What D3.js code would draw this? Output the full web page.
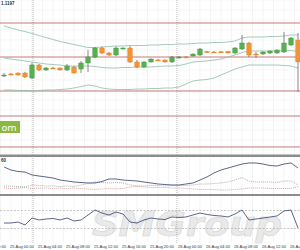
<!DOCTYPE html>
<html>
<head>
<meta charset="utf-8">
<script src="https://cdn.jsdelivr.net/npm/d3@7"></script>
<style>
  html, body { margin: 0; padding: 0; background: #fff; overflow: hidden; }
</style>
</head>
<body>
<svg id="chart" width="300" height="250"></svg>
<script>
// H1 candles, price panel
const opens  = [1.11245,1.11260,1.11270,1.11270,1.11220,1.11350,1.11300,1.11320,1.11320,1.11300,1.11330,1.11310,1.11370,1.11430,1.11520,1.11470,1.11450,1.11510,1.11520,1.11380,1.11330,1.11380,1.11400,1.11400,1.11380,1.11420,1.11430,1.11440,1.11450,1.11485,1.11480,1.11482,1.11485,1.11470,1.11510,1.11570,1.11460,1.11460,1.11470,1.11470,1.11480,1.11550,1.11600];
const highs  = [1.11270,1.11270,1.11275,1.11280,1.11370,1.11360,1.11330,1.11330,1.11325,1.11360,1.11340,1.11390,1.11500,1.11530,1.11535,1.11480,1.11535,1.11525,1.11540,1.11400,1.11390,1.11415,1.11410,1.11405,1.11440,1.11440,1.11440,1.11465,1.11520,1.11490,1.11490,1.11490,1.11490,1.11530,1.11650,1.11580,1.11480,1.11485,1.11495,1.11505,1.11680,1.11630,1.11670];
const lows   = [1.11230,1.11245,1.11245,1.11220,1.11210,1.11290,1.11290,1.11310,1.11295,1.11290,1.11265,1.11270,1.11280,1.11420,1.11460,1.11440,1.11440,1.11505,1.11370,1.11320,1.11320,1.11375,1.11390,1.11375,1.11370,1.11415,1.11420,1.11435,1.11440,1.11470,1.11470,1.11470,1.11465,1.11460,1.11500,1.11430,1.11420,1.11450,1.11460,1.11460,1.11470,1.11540,1.11080];
const closes = [1.11250,1.11257,1.11250,1.11230,1.11350,1.11300,1.11320,1.11317,1.11300,1.11340,1.11270,1.11370,1.11430,1.11520,1.11470,1.11450,1.11520,1.11520,1.11380,1.11330,1.11380,1.11410,1.11397,1.11380,1.11430,1.11430,1.11427,1.11460,1.11510,1.11475,1.11478,1.11480,1.11470,1.11520,1.11570,1.11450,1.11457,1.11480,1.11490,1.11500,1.11570,1.11620,1.11380];

// bollinger bands
const bbUpper  = [1.1174,1.1172,1.1170,1.11685,1.11665,1.11645,1.11625,1.11605,1.11585,1.1157,1.11555,1.1154,1.11525,1.11525,1.1153,1.11535,1.1154,1.1154,1.11545,1.11545,1.11545,1.1155,1.1155,1.11555,1.11555,1.1156,1.1156,1.11565,1.1157,1.1157,1.11575,1.11575,1.1158,1.1159,1.1162,1.1163,1.1163,1.1163,1.11635,1.11635,1.1164,1.1165,1.1165];
const bbMiddle = [1.1142,1.1141,1.1140,1.1139,1.1138,1.1137,1.1136,1.11355,1.1135,1.1134,1.1134,1.1134,1.1134,1.11335,1.11325,1.1132,1.1132,1.11325,1.11325,1.1133,1.1133,1.1133,1.11335,1.1134,1.1134,1.11345,1.1136,1.1138,1.11385,1.1139,1.1140,1.1141,1.1143,1.1145,1.11475,1.1149,1.1149,1.1149,1.1149,1.1149,1.1149,1.11495,1.11485];
const bbLower  = [1.1110,1.1110,1.11095,1.11095,1.1109,1.11095,1.1110,1.1110,1.11105,1.1111,1.1112,1.11135,1.1115,1.1114,1.1112,1.1111,1.11105,1.11105,1.11105,1.1111,1.1111,1.11115,1.11115,1.1112,1.1112,1.1113,1.1116,1.1119,1.1120,1.11205,1.1122,1.1125,1.1128,1.1131,1.1133,1.1135,1.1135,1.1135,1.1135,1.1135,1.11345,1.1134,1.1132];

// horizontal levels
const levels = [1.1177, 1.1143, 1.1109, 1.1084, 1.1053];

// ADX panel
const adx     = [36.5,32.4,30.4,29.7,25.7,24.3,23.0,21.6,18.9,17.6,16.2,15.5,14.9,14.9,16.9,20.3,20.3,18.9,18.2,17.6,16.2,14.9,13.5,12.8,12.2,12.2,13.5,14.9,18.9,23.0,28.4,32.4,35.1,37.8,40.5,41.9,41.9,40.5,38.5,37.8,40.5,41.9,35.1];
const plusDI  = [10.8,10.8,10.1,9.5,12.2,11.5,10.8,10.8,10.1,10.8,10.1,12.2,14.2,16.2,15.5,14.9,15.5,14.9,12.2,10.8,10.8,11.5,11.5,10.8,11.5,11.5,11.5,12.2,13.5,13.5,14.2,14.9,16.2,18.9,22.3,17.6,16.2,16.2,16.2,15.5,17.6,17.6,12.2];
const minusDI = [8.1,7.4,8.1,8.8,7.4,8.1,8.1,7.4,8.1,7.4,8.1,7.4,6.8,6.1,6.8,7.4,6.8,7.4,9.5,10.1,9.5,8.8,8.8,8.8,8.1,8.1,7.4,6.8,6.1,6.1,6.1,5.4,5.4,6.1,6.8,8.1,8.1,8.1,7.4,7.4,7.4,7.4,10.1];

// RSI panel
const rsi = [42.2,42.2,44.4,37.8,53.3,48.9,51.1,52.2,48.9,53.3,46.7,48.9,60,71.1,64.4,60,66.7,62.2,44.4,42.2,48.9,53.3,51.1,50,55.6,54.4,55.6,60,64.4,61.1,58.9,57.8,55.6,62.2,71.1,48.9,51.1,53.3,55.6,57.8,68.9,71.1,31.1];
const rsiLevels = [70, 30];

// time axis
const tickIndex = [-3, 1, 5, 9, 13, 17, 21, 25, 29, 33, 37, 41];
const tickText = ["23 Aug 20:00","25 Aug 00:00","25 Aug 04:00","25 Aug 08:00","25 Aug 12:00","25 Aug 16:00","25 Aug 20:00","26 Aug 00:00","26 Aug 04:00","26 Aug 08:00","26 Aug 12:00","26 Aug 16:00"];
const daySeparators = [4.15, 24.7];

const svg = d3.select("#chart");

const x  = d3.scaleLinear().domain([0, 42]).range([4, 298]);
const yP = d3.scaleLinear().domain([1.1045, 1.1200]).range([155, 0]);
const yA = d3.scaleLinear().domain([0, 50]).range([194, 157]);
const yR = d3.scaleLinear().domain([0, 100]).range([242, 197]);

// faint grid
svg.append("g")
  .selectAll("line")
  .data(d3.range(-0.5, 43.5, 1.5))
  .join("line")
    .attr("x1", d => x(d)).attr("x2", d => x(d))
    .attr("y1", 0).attr("y2", 242)
    .attr("stroke", "#ececec")
    .attr("stroke-width", 0.6);

svg.append("g")
  .selectAll("line")
  .data(d3.range(1.1050, 1.1200, 0.0010))
  .join("line")
    .attr("x1", 0).attr("x2", 300)
    .attr("y1", d => yP(d)).attr("y2", d => yP(d))
    .attr("stroke", "#f0f0f0")
    .attr("stroke-width", 0.6);

// watermark
svg.append("text")
  .attr("x", 92)
  .attr("y", 236)
  .attr("font-family", "DejaVu Sans")
  .attr("font-weight", "bold")
  .attr("font-style", "italic")
  .attr("font-size", 34)
  .attr("textLength", 190)
  .attr("lengthAdjust", "spacingAndGlyphs")
  .attr("fill", "#e9e9e9")
  .attr("stroke", "#d4d4d4")
  .attr("stroke-width", 0.6)
  .text("SMGroup");

// day separators
svg.append("g")
  .selectAll("line")
  .data(daySeparators)
  .join("line")
    .attr("x1", d => x(d)).attr("x2", d => x(d))
    .attr("y1", 0).attr("y2", 243)
    .attr("stroke", "#8a8a8a")
    .attr("stroke-width", 0.6)
    .attr("stroke-dasharray", "1,1");

// levels
svg.append("g")
  .selectAll("line")
  .data(levels)
  .join("line")
    .attr("x1", 0).attr("x2", 300)
    .attr("y1", d => yP(d)).attr("y2", d => yP(d))
    .attr("stroke", "#b8585a")
    .attr("stroke-width", 0.8);

// bands
const bandLine = d3.line().x((d, i) => x(i)).y(d => yP(d));
[bbUpper, bbMiddle, bbLower].forEach(s => {
  svg.append("path")
    .attr("d", bandLine(s))
    .attr("fill", "none")
    .attr("stroke", "#8fbfa6")
    .attr("stroke-width", 0.8);
});

// candles
const candles = opens.map((o, i) => ({i: i, o: o, h: highs[i], l: lows[i], c: closes[i]}));
const cg = svg.append("g")
  .selectAll("g")
  .data(candles)
  .join("g");

cg.append("line")
  .attr("x1", d => x(d.i)).attr("x2", d => x(d.i))
  .attr("y1", d => yP(d.h)).attr("y2", d => yP(d.l))
  .attr("stroke", "#5a5a5a")
  .attr("stroke-width", 0.7);

cg.append("rect")
  .attr("x", d => x(d.i) - 2.2)
  .attr("width", 4.4)
  .attr("y", d => yP(Math.max(d.o, d.c)))
  .attr("height", d => Math.max(1, Math.abs(yP(d.o) - yP(d.c))))
  .attr("fill", d => d.c >= d.o ? "#55b14f" : "#f39433")
  .attr("stroke", d => d.c >= d.o ? "#3f8f3c" : "#d97a1e")
  .attr("stroke-width", 0.4);

// top-left price label
svg.append("text")
  .attr("x", 1).attr("y", 5)
  .attr("font-family", "Liberation Sans")
  .attr("font-size", 4.5)
  .attr("font-weight", "bold")
  .attr("fill", "#333")
  .text("1.1197");

// green tag
svg.append("rect")
  .attr("x", -2).attr("y", 121)
  .attr("width", 22).attr("height", 12)
  .attr("fill", "#8cb83f");
svg.append("text")
  .attr("x", 1.5).attr("y", 130.5)
  .attr("font-family", "DejaVu Sans")
  .attr("font-size", 9.5)
  .attr("fill", "#fff")
  .text("om");

// panel separators
[155.8, 195.1].forEach((yy, k) => {
  svg.append("line")
    .attr("x1", 0).attr("x2", 300)
    .attr("y1", yy).attr("y2", yy)
    .attr("stroke", "#8c8c8c")
    .attr("stroke-width", k === 0 ? 2.4 : 2);
});

// ADX panel
const aLine = d3.line().x((d, i) => x(i)).y(d => yA(d));
svg.append("path").attr("d", aLine(plusDI))
  .attr("fill", "none").attr("stroke", "#8e8e8e")
  .attr("stroke-width", 0.7).attr("stroke-dasharray", "1,1");
svg.append("path").attr("d", aLine(minusDI))
  .attr("fill", "none").attr("stroke", "#d07b7b")
  .attr("stroke-width", 0.7).attr("stroke-dasharray", "1,1");
svg.append("path").attr("d", aLine(adx))
  .attr("fill", "none").attr("stroke", "#34406e")
  .attr("stroke-width", 0.8);

svg.append("text")
  .attr("x", 1).attr("y", 162)
  .attr("font-family", "Liberation Sans")
  .attr("font-size", 4.5)
  .attr("font-weight", "bold")
  .attr("fill", "#333")
  .text("60");

// RSI panel
svg.append("g")
  .selectAll("line")
  .data(rsiLevels)
  .join("line")
    .attr("x1", 0).attr("x2", 300)
    .attr("y1", d => yR(d)).attr("y2", d => yR(d))
    .attr("stroke", "#a0a0a0")
    .attr("stroke-width", 0.6)
    .attr("stroke-dasharray", "2,1.5");

const rLine = d3.line().x((d, i) => x(i)).y(d => yR(d));
svg.append("path").attr("d", rLine(rsi))
  .attr("fill", "none").attr("stroke", "#34406e")
  .attr("stroke-width", 0.8);

// time labels (first and last are cut by the frame, as in the original)
svg.append("g")
  .selectAll("text")
  .data(tickIndex)
  .join("text")
    .attr("x", d => x(d) - 1)
    .attr("y", 248)
    .attr("font-family", "Liberation Sans")
    .attr("font-size", 4.3)
    .attr("fill", "#333")
    .attr("textLength", 24)
    .attr("lengthAdjust", "spacingAndGlyphs")
    .text((d, i) => tickText[i]);
</script>
</body>
</html>
